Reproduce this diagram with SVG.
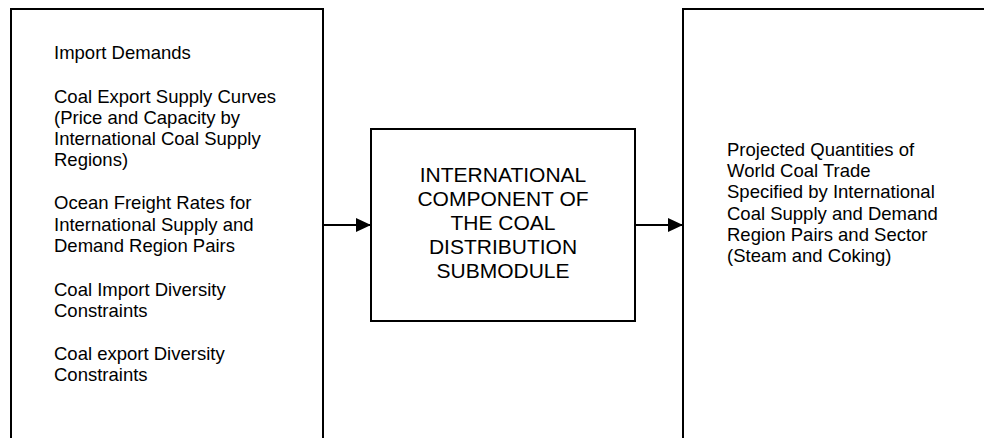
<svg xmlns="http://www.w3.org/2000/svg" width="984" height="438" viewBox="0 0 984 438">
<style>
.box{fill:#fff;stroke:#000;stroke-width:2}
.t{font-family:"Liberation Sans",Arial,sans-serif;font-size:18.5px;fill:#000}
.c{font-family:"Liberation Sans",Arial,sans-serif;font-size:21px;fill:#000;text-anchor:middle}
.ln{stroke:#000;stroke-width:2;fill:none}
</style>
<defs>
<marker id="ah" markerUnits="userSpaceOnUse" markerWidth="16" markerHeight="16" refX="15" refY="7" orient="auto">
<path d="M0,0 L15,7 L0,14 Z" fill="#000"/>
</marker>
</defs>
<g id="inputs">
<rect class="box" x="11" y="9" width="312" height="440"/>
<text class="t" x="54" y="59">Import Demands</text>
<text class="t" x="54" y="103">Coal Export Supply Curves</text>
<text class="t" x="54" y="124">(Price and Capacity by</text>
<text class="t" x="54" y="145">International Coal Supply</text>
<text class="t" x="54" y="166">Regions)</text>
<text class="t" x="54" y="209">Ocean Freight Rates for</text>
<text class="t" x="54" y="230.5">International Supply and</text>
<text class="t" x="54" y="252">Demand Region Pairs</text>
<text class="t" x="54" y="295.5">Coal Import Diversity</text>
<text class="t" x="54" y="317">Constraints</text>
<text class="t" x="54" y="360">Coal export Diversity</text>
<text class="t" x="54" y="381">Constraints</text>
</g>
<g id="submodule">
<rect class="box" x="371" y="129" width="264" height="192"/>
<text class="c" x="503" y="182">INTERNATIONAL</text>
<text class="c" x="503" y="206">COMPONENT OF</text>
<text class="c" x="503" y="230">THE COAL</text>
<text class="c" x="503" y="254">DISTRIBUTION</text>
<text class="c" x="503" y="278">SUBMODULE</text>
</g>
<g id="outputs">
<rect class="box" x="683" y="9" width="320" height="440"/>
<text class="t" x="727" y="156">Projected Quantities of</text>
<text class="t" x="727" y="177.2">World Coal Trade</text>
<text class="t" x="727" y="198.4">Specified by International</text>
<text class="t" x="727" y="219.6">Coal Supply and Demand</text>
<text class="t" x="727" y="240.8">Region Pairs and Sector</text>
<text class="t" x="727" y="262">(Steam and Coking)</text>
</g>
<g id="connectors">
<line class="ln" x1="323" y1="225" x2="371" y2="225" marker-end="url(#ah)"/>
<line class="ln" x1="635" y1="225" x2="683" y2="225" marker-end="url(#ah)"/>
</g>
</svg>
